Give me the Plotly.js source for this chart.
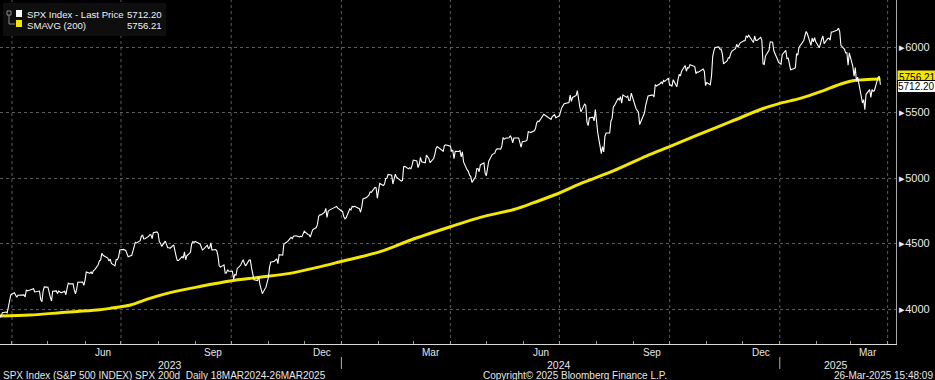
<!DOCTYPE html>
<html>
<head>
<meta charset="utf-8">
<script src="https://cdn.plot.ly/plotly-3.0.1.min.js"></script>
<style>
html,body{margin:0;padding:0;background:#000;}
#chart{width:935px;height:380px;}
</style>
</head>
<body>
<div id="chart"></div>
<script>
// ---- SPX daily closes (trading days) ----
const dates = [
"2023-03-20","2023-03-21","2023-03-22","2023-03-23","2023-03-24","2023-03-27","2023-03-28","2023-03-29","2023-03-30","2023-03-31",
"2023-04-03","2023-04-04","2023-04-05","2023-04-06","2023-04-10","2023-04-11","2023-04-12","2023-04-13","2023-04-14","2023-04-17","2023-04-18","2023-04-19","2023-04-20","2023-04-21","2023-04-24","2023-04-25","2023-04-26","2023-04-27","2023-04-28",
"2023-05-01","2023-05-02","2023-05-03","2023-05-04","2023-05-05","2023-05-08","2023-05-09","2023-05-10","2023-05-11","2023-05-12","2023-05-15","2023-05-16","2023-05-17","2023-05-18","2023-05-19","2023-05-22","2023-05-23","2023-05-24","2023-05-25","2023-05-26","2023-05-30","2023-05-31",
"2023-06-01","2023-06-02","2023-06-05","2023-06-06","2023-06-07","2023-06-08","2023-06-09","2023-06-12","2023-06-13","2023-06-14","2023-06-15","2023-06-16","2023-06-20","2023-06-21","2023-06-22","2023-06-23","2023-06-26","2023-06-27","2023-06-28","2023-06-29","2023-06-30",
"2023-07-03","2023-07-05","2023-07-06","2023-07-07","2023-07-10","2023-07-11","2023-07-12","2023-07-13","2023-07-14","2023-07-17","2023-07-18","2023-07-19","2023-07-20","2023-07-21","2023-07-24","2023-07-25","2023-07-26","2023-07-27","2023-07-28","2023-07-31",
"2023-08-01","2023-08-02","2023-08-03","2023-08-04","2023-08-07","2023-08-08","2023-08-09","2023-08-10","2023-08-11","2023-08-14","2023-08-15","2023-08-16","2023-08-17","2023-08-18","2023-08-21","2023-08-22","2023-08-23","2023-08-24","2023-08-25","2023-08-28","2023-08-29","2023-08-30","2023-08-31",
"2023-09-01","2023-09-05","2023-09-06","2023-09-07","2023-09-08","2023-09-11","2023-09-12","2023-09-13","2023-09-14","2023-09-15","2023-09-18","2023-09-19","2023-09-20","2023-09-21","2023-09-22","2023-09-25","2023-09-26","2023-09-27","2023-09-28","2023-09-29",
"2023-10-02","2023-10-03","2023-10-04","2023-10-05","2023-10-06","2023-10-09","2023-10-10","2023-10-11","2023-10-12","2023-10-13","2023-10-16","2023-10-17","2023-10-18","2023-10-19","2023-10-20","2023-10-23","2023-10-24","2023-10-25","2023-10-26","2023-10-27","2023-10-30","2023-10-31",
"2023-11-01","2023-11-02","2023-11-03","2023-11-06","2023-11-07","2023-11-08","2023-11-09","2023-11-10","2023-11-13","2023-11-14","2023-11-15","2023-11-16","2023-11-17","2023-11-20","2023-11-21","2023-11-22","2023-11-24","2023-11-27","2023-11-28","2023-11-29","2023-11-30",
"2023-12-01","2023-12-04","2023-12-05","2023-12-06","2023-12-07","2023-12-08","2023-12-11","2023-12-12","2023-12-13","2023-12-14","2023-12-15","2023-12-18","2023-12-19","2023-12-20","2023-12-21","2023-12-22","2023-12-26","2023-12-27","2023-12-28","2023-12-29",
"2024-01-02","2024-01-03","2024-01-04","2024-01-05","2024-01-08","2024-01-09","2024-01-10","2024-01-11","2024-01-12","2024-01-16","2024-01-17","2024-01-18","2024-01-19","2024-01-22","2024-01-23","2024-01-24","2024-01-25","2024-01-26","2024-01-29","2024-01-30","2024-01-31",
"2024-02-01","2024-02-02","2024-02-05","2024-02-06","2024-02-07","2024-02-08","2024-02-09","2024-02-12","2024-02-13","2024-02-14","2024-02-15","2024-02-16","2024-02-20","2024-02-21","2024-02-22","2024-02-23","2024-02-26","2024-02-27","2024-02-28","2024-02-29",
"2024-03-01","2024-03-04","2024-03-05","2024-03-06","2024-03-07","2024-03-08","2024-03-11","2024-03-12","2024-03-13","2024-03-14","2024-03-15","2024-03-18","2024-03-19","2024-03-20","2024-03-21","2024-03-22","2024-03-25","2024-03-26","2024-03-27","2024-03-28",
"2024-04-01","2024-04-02","2024-04-03","2024-04-04","2024-04-05","2024-04-08","2024-04-09","2024-04-10","2024-04-11","2024-04-12","2024-04-15","2024-04-16","2024-04-17","2024-04-18","2024-04-19","2024-04-22","2024-04-23","2024-04-24","2024-04-25","2024-04-26","2024-04-29","2024-04-30",
"2024-05-01","2024-05-02","2024-05-03","2024-05-06","2024-05-07","2024-05-08","2024-05-09","2024-05-10","2024-05-13","2024-05-14","2024-05-15","2024-05-16","2024-05-17","2024-05-20","2024-05-21","2024-05-22","2024-05-23","2024-05-24","2024-05-28","2024-05-29","2024-05-30","2024-05-31",
"2024-06-03","2024-06-04","2024-06-05","2024-06-06","2024-06-07","2024-06-10","2024-06-11","2024-06-12","2024-06-13","2024-06-14","2024-06-17","2024-06-18","2024-06-20","2024-06-21","2024-06-24","2024-06-25","2024-06-26","2024-06-27","2024-06-28",
"2024-07-01","2024-07-02","2024-07-03","2024-07-05","2024-07-08","2024-07-09","2024-07-10","2024-07-11","2024-07-12","2024-07-15","2024-07-16","2024-07-17","2024-07-18","2024-07-19","2024-07-22","2024-07-23","2024-07-24","2024-07-25","2024-07-26","2024-07-29","2024-07-30","2024-07-31",
"2024-08-01","2024-08-02","2024-08-05","2024-08-06","2024-08-07","2024-08-08","2024-08-09","2024-08-12","2024-08-13","2024-08-14","2024-08-15","2024-08-16","2024-08-19","2024-08-20","2024-08-21","2024-08-22","2024-08-23","2024-08-26","2024-08-27","2024-08-28","2024-08-29","2024-08-30",
"2024-09-03","2024-09-04","2024-09-05","2024-09-06","2024-09-09","2024-09-10","2024-09-11","2024-09-12","2024-09-13","2024-09-16","2024-09-17","2024-09-18","2024-09-19","2024-09-20","2024-09-23","2024-09-24","2024-09-25","2024-09-26","2024-09-27","2024-09-30",
"2024-10-01","2024-10-02","2024-10-03","2024-10-04","2024-10-07","2024-10-08","2024-10-09","2024-10-10","2024-10-11","2024-10-14","2024-10-15","2024-10-16","2024-10-17","2024-10-18","2024-10-21","2024-10-22","2024-10-23","2024-10-24","2024-10-25","2024-10-28","2024-10-29","2024-10-30","2024-10-31",
"2024-11-01","2024-11-04","2024-11-05","2024-11-06","2024-11-07","2024-11-08","2024-11-11","2024-11-12","2024-11-13","2024-11-14","2024-11-15","2024-11-18","2024-11-19","2024-11-20","2024-11-21","2024-11-22","2024-11-25","2024-11-26","2024-11-27","2024-11-29",
"2024-12-02","2024-12-03","2024-12-04","2024-12-05","2024-12-06","2024-12-09","2024-12-10","2024-12-11","2024-12-12","2024-12-13","2024-12-16","2024-12-17","2024-12-18","2024-12-19","2024-12-20","2024-12-23","2024-12-24","2024-12-26","2024-12-27","2024-12-30","2024-12-31",
"2025-01-02","2025-01-03","2025-01-06","2025-01-07","2025-01-08","2025-01-10","2025-01-13","2025-01-14","2025-01-15","2025-01-16","2025-01-17","2025-01-21","2025-01-22","2025-01-23","2025-01-24","2025-01-27","2025-01-28","2025-01-29","2025-01-30","2025-01-31",
"2025-02-03","2025-02-04","2025-02-05","2025-02-06","2025-02-07","2025-02-10","2025-02-11","2025-02-12","2025-02-13","2025-02-14","2025-02-18","2025-02-19","2025-02-20","2025-02-21","2025-02-24","2025-02-25","2025-02-26","2025-02-27","2025-02-28",
"2025-03-03","2025-03-04","2025-03-05","2025-03-06","2025-03-07","2025-03-10","2025-03-11","2025-03-12","2025-03-13","2025-03-14","2025-03-17","2025-03-18","2025-03-19","2025-03-20","2025-03-21","2025-03-24","2025-03-25","2025-03-26"
];
const closes = [
3951,4002,3937,3948,3971,3977,3971,4027,4051,4109,
4124,4100,4090,4105,4109,4108,4092,4146,4138,4151,4154,4155,4130,4133,4137,4072,4056,4136,4169,
4167,4119,4091,4061,4136,4138,4119,4137,4131,4124,4136,4109,4158,4198,4192,4192,4146,4115,4151,4205,4206,4180,
4221,4282,4273,4283,4268,4293,4299,4338,4369,4373,4426,4410,4389,4366,4381,4348,4329,4378,4377,4397,4450,
4455,4447,4412,4399,4410,4439,4473,4510,4505,4522,4555,4565,4535,4536,4554,4567,4566,4538,4582,4589,
4577,4513,4502,4478,4518,4499,4468,4468,4464,4490,4437,4404,4370,4370,4400,4388,4436,4376,4406,4433,4497,4515,4508,
4516,4497,4465,4451,4457,4487,4462,4467,4505,4450,4454,4444,4402,4330,4320,4337,4274,4275,4300,4288,
4288,4229,4263,4258,4308,4336,4358,4377,4349,4328,4373,4373,4314,4278,4224,4217,4248,4186,4137,4117,4167,4194,
4237,4318,4358,4365,4378,4383,4347,4415,4411,4496,4502,4508,4514,4547,4538,4556,4559,4551,4555,4551,4568,
4595,4569,4567,4549,4585,4604,4622,4644,4707,4720,4719,4740,4768,4699,4747,4755,4774,4781,4783,4770,
4743,4705,4689,4697,4764,4757,4783,4780,4784,4766,4739,4780,4840,4851,4865,4869,4894,4891,4928,4925,4846,
4906,4959,4943,4954,4996,4998,5027,5022,4954,5001,5030,5006,4976,4982,5087,5089,5070,5079,5070,5096,
5137,5131,5079,5105,5157,5124,5117,5175,5165,5150,5117,5149,5179,5225,5241,5234,5218,5204,5248,5254,
5243,5205,5211,5147,5204,5202,5209,5161,5200,5123,5062,5051,5022,5011,4967,5010,5071,5072,5048,5100,5116,5036,
5018,5064,5128,5181,5187,5188,5214,5223,5221,5247,5308,5297,5303,5308,5321,5307,5268,5305,5306,5267,5236,5278,
5283,5291,5354,5352,5347,5361,5375,5421,5434,5431,5473,5487,5473,5465,5448,5469,5478,5483,5460,
5475,5509,5537,5567,5572,5577,5633,5585,5615,5631,5667,5589,5545,5505,5564,5555,5427,5400,5459,5464,5436,5522,
5446,5347,5186,5240,5199,5319,5344,5344,5434,5455,5543,5554,5608,5597,5621,5571,5635,5616,5625,5592,5592,5648,
5529,5520,5503,5408,5471,5496,5554,5596,5626,5633,5634,5618,5714,5703,5719,5732,5722,5745,5738,5762,
5709,5709,5700,5751,5696,5751,5792,5780,5815,5859,5815,5843,5841,5865,5853,5851,5797,5810,5808,5823,5832,5813,5705,
5729,5712,5782,5929,5973,5996,6001,5984,5985,5949,5871,5894,5917,5917,5949,5969,5987,6021,5999,6032,
6047,6050,6086,6075,6090,6053,6034,6084,6051,6051,6074,6051,5872,5867,5931,5975,6040,6037,5971,5907,5882,
5869,5942,5975,5909,5918,5827,5836,5843,5950,5937,5997,6049,6086,6119,6101,6012,6068,6039,6071,6041,
5995,6038,6061,6084,6026,6066,6068,6052,6115,6115,6129,6144,6118,6013,5983,5955,5956,5861,5955,
5850,5778,5843,5739,5770,5615,5573,5599,5522,5639,5675,5615,5675,5663,5668,5768,5777,5712.20
];

// ---- 200-day simple moving average ----
const smaDates = ["2023-03-20","2023-04-16","2023-05-11","2023-06-11","2023-06-22","2023-07-09","2023-07-25","2023-08-11","2023-09-05","2023-09-30","2023-10-25","2023-11-19","2023-12-12","2023-12-31","2024-02-03","2024-02-28","2024-04-01","2024-04-26","2024-05-24","2024-06-09","2024-06-29","2024-07-19","2024-08-15","2024-09-12","2024-10-02","2024-10-24","2024-11-21","2024-12-18","2025-01-01","2025-01-18","2025-02-04","2025-02-21","2025-03-04","2025-03-26"];
const smaValues = [3947,3954,3972,3992,4005,4031,4081,4125,4172,4214,4242,4272,4318,4361,4440,4527,4628,4700,4760,4810,4878,4959,5055,5170,5244,5328,5430,5531,5570,5608,5659,5718,5744,5756.21];

// ---- axis labels ----
const yTicks = [4000,4500,5000,5500,6000];
const monthStarts = ["2023-04-01","2023-05-01","2023-06-01","2023-07-01","2023-08-01","2023-09-01","2023-10-01","2023-11-01","2023-12-01","2024-01-01","2024-02-01","2024-03-01","2024-04-01","2024-05-01","2024-06-01","2024-07-01","2024-08-01","2024-09-01","2024-10-01","2024-11-01","2024-12-01","2025-01-01","2025-02-01","2025-03-01","2025-04-01"];
const quarterStarts = ["2023-04-01","2023-07-01","2023-10-01","2024-01-01","2024-04-01","2024-07-01","2024-10-01","2025-01-01","2025-04-01"];
const monthLabelDates = ["2023-06-16","2023-09-16","2023-12-16","2024-03-16","2024-06-16","2024-09-16","2024-12-16","2025-03-16"];
const monthLabels = ["Jun","Sep","Dec","Mar","Jun","Sep","Dec","Mar"];
const yearLabelDates = ["2023-08-11","2024-07-01","2025-02-17"];
const yearLabels = ["2023","2024","2025"];
const yearBreaks = ["2024-01-01","2025-01-01"];

const legendNames = ["SPX Index - Last Price","SMAVG (200)"];
const legendValues = ["5712.20","5756.21"];
const footerLeft = "SPX Index (S&P 500 INDEX) SPX 200d  Daily 18MAR2024-26MAR2025";
const footerCenter = "Copyright\u00A9 2025 Bloomberg Finance L.P.";
const footerRight = "26-Mar-2025 15:48:09";

// ---- layout helpers (pixel -> paper) ----
const W = 935, H = 380, ML = 0, MR = 39, MT = 0, MB = 36;
const PW = W - ML - MR, PH = H - MT - MB;
const px = x => (x - ML) / PW;
const py = y => 1 - (y - MT) / PH;
const FONT = "Liberation Sans, Arial, sans-serif";
const TXT = "#e6e6e6";

const traces = [
  {x: smaDates, y: smaValues, type: "scatter", mode: "lines",
   line: {color: "#f3e600", width: 3, shape: "spline", smoothing: 0.9}, hoverinfo: "skip"},
  {x: dates, y: closes, type: "scatter", mode: "lines",
   line: {color: "#ffffff", width: 1.1}, hoverinfo: "skip"}
];

const shapes = [];
quarterStarts.forEach(d => shapes.push({type: "line", xref: "x", yref: "paper", x0: d, x1: d, y0: 0, y1: 1,
  line: {color: "#5c5c5c", width: 1, dash: "dot"}, layer: "below"}));
yearBreaks.forEach(d => shapes.push({type: "line", xref: "x", yref: "paper", x0: d, x1: d, y0: py(357), y1: py(369),
  line: {color: "#b0b0b0", width: 1}}));
// legend box
shapes.push({type: "rect", xref: "paper", yref: "paper", x0: px(3), x1: px(166), y0: py(36), y1: py(3),
  fillcolor: "#0e0e0e", line: {width: 0}});
shapes.push({type: "rect", xref: "paper", yref: "paper", x0: px(7), x1: px(11), y0: py(15), y1: py(11),
  fillcolor: "rgba(0,0,0,0)", line: {color: "#888", width: 1}});
shapes.push({type: "path", xref: "paper", yref: "paper",
  path: `M ${px(9)} ${py(15)} L ${px(9)} ${py(24)} L ${px(15)} ${py(24)}`, line: {color: "#888", width: 1}});
shapes.push({type: "rect", xref: "paper", yref: "paper", x0: px(16), x1: px(22), y0: py(17), y1: py(10),
  fillcolor: "#ffffff", line: {width: 0}});
shapes.push({type: "rect", xref: "paper", yref: "paper", x0: px(16), x1: px(22), y0: py(27), y1: py(20),
  fillcolor: "#f3e600", line: {width: 0}});

const annotations = [];
monthLabelDates.forEach((d, i) => annotations.push({x: d, xref: "x", y: py(352), yref: "paper", yanchor: "middle",
  text: monthLabels[i], showarrow: false, font: {family: FONT, size: 10, color: TXT}}));
yearLabelDates.forEach((d, i) => annotations.push({x: d, xref: "x", y: py(365), yref: "paper", yanchor: "middle",
  text: yearLabels[i], showarrow: false, font: {family: FONT, size: 10.5, color: TXT}}));
annotations.push({x: px(1), xref: "paper", xanchor: "left", y: py(375), yref: "paper", yanchor: "middle", text: footerLeft,
  showarrow: false, font: {family: FONT, size: 10, color: TXT}});
annotations.push({x: px(481), xref: "paper", xanchor: "left", y: py(375), yref: "paper", yanchor: "middle", text: footerCenter,
  showarrow: false, font: {family: FONT, size: 10, color: TXT}});
annotations.push({x: px(935), xref: "paper", xanchor: "right", y: py(375), yref: "paper", yanchor: "middle", text: footerRight,
  showarrow: false, font: {family: FONT, size: 10, color: TXT}});
legendNames.forEach((n, i) => {
  annotations.push({x: px(25), xref: "paper", xanchor: "left", y: py(14.5 + 10.5 * i), yref: "paper", yanchor: "middle", text: n,
    showarrow: false, font: {family: FONT, size: 9.6, color: "#f0f0f0"}});
  annotations.push({x: px(164), xref: "paper", xanchor: "right", y: py(14.5 + 10.5 * i), yref: "paper", yanchor: "middle", text: legendValues[i],
    showarrow: false, font: {family: FONT, size: 9.6, color: "#f0f0f0"}});
});
// last value tags on right axis
annotations.push({x: 1, xref: "paper", xanchor: "left", xshift: 1, y: smaValues[smaValues.length - 1], yref: "y",
  yanchor: "middle", yshift: 1, text: legendValues[1], showarrow: false, bgcolor: "#f3e600", borderpad: 1,
  font: {family: FONT, size: 10, color: "#000"}});
annotations.push({x: 1, xref: "paper", xanchor: "left", xshift: 1, y: closes[closes.length - 1], yref: "y",
  yanchor: "middle", yshift: -1.5, text: legendValues[0], showarrow: false, bgcolor: "#ffffff", bordercolor: "#000", borderwidth: 1, borderpad: 0,
  font: {family: FONT, size: 10, color: "#000"}});

const layout = {
  width: W, height: H,
  margin: {l: ML, r: MR, t: MT, b: MB, pad: 0},
  paper_bgcolor: "#000", plot_bgcolor: "#000",
  showlegend: false,
  xaxis: {type: "date", range: ["2023-03-22", "2025-04-08"], tickmode: "array", tickvals: monthStarts,
    ticktext: monthStarts.map(() => ""), ticks: "inside", ticklen: 3, tickcolor: "#9a9a9a",
    showline: true, linecolor: "#d8d8d8", linewidth: 1, showgrid: false, zeroline: false, fixedrange: true},
  yaxis: {side: "right", range: [3733, 6359], tickmode: "array", tickvals: yTicks,
    ticktext: yTicks.map(v => "\u25B8" + v), ticks: "", showline: true, linecolor: "#a8a8a8", linewidth: 1,
    showgrid: true, gridcolor: "#5c5c5c", griddash: "dot", gridwidth: 1, zeroline: false,
    tickfont: {family: FONT, size: 11, color: "#ececec"}, fixedrange: true},
  shapes: shapes,
  annotations: annotations
};

Plotly.newPlot("chart", traces, layout, {displayModeBar: false, staticPlot: true});
</script>
</body>
</html>
